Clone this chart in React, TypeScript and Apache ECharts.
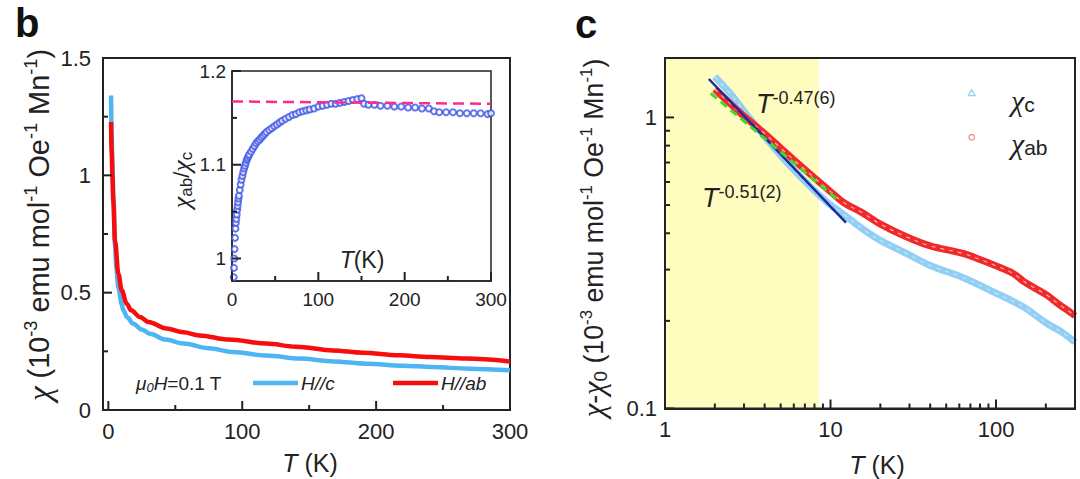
import React, { useEffect, useRef } from 'react';
import * as echarts from 'echarts';

// ---------- Panel b: chi vs T ----------
const tempBc = [2, 2.5, 3, 3.7, 5, 6, 7.5, 10, 11.2, 14, 18.6, 25, 31, 43, 56, 75, 93, 118, 143, 168, 193, 220, 242, 270, 300];
const chiBc = [1.34, 1.18, 1.06, 0.92, 0.7, 0.6, 0.52, 0.45, 0.425, 0.395, 0.368, 0.343, 0.325, 0.3, 0.283, 0.263, 0.247, 0.232, 0.219, 0.207, 0.197, 0.189, 0.183, 0.176, 0.169];
const tempBab = [2, 2.5, 3, 3.7, 5, 7.5, 10, 13.7, 17, 23.6, 30, 43.5, 56, 68, 90, 118, 140, 168, 190, 217, 240, 267, 300];
const chiBab = [1.227, 1.1, 1.0, 0.89, 0.72, 0.58, 0.51, 0.453, 0.425, 0.396, 0.375, 0.347, 0.331, 0.318, 0.3, 0.283, 0.27, 0.254, 0.244, 0.233, 0.226, 0.219, 0.207];

// ---------- Inset: chi_ab / chi_c ----------
const tempRatio = [2, 2.3, 2.6, 3, 3.5, 4, 4.5, 5, 5.5, 6, 6.5, 7, 7.5, 8, 9, 10, 11, 12, 13, 14, 15, 16, 17, 18, 19, 20, 22, 24, 26, 28, 30, 32, 34, 36, 38, 40, 43, 46, 49, 52, 55, 58, 62, 66, 70, 74, 78, 82, 86, 90, 95, 100, 105, 110, 115, 120, 125, 130, 135, 140, 145, 150, 153, 158, 165, 172, 180, 188, 196, 204, 212, 220, 228, 234, 240, 248, 256, 264, 272, 280, 288, 296, 300];
const ratioVal = [0.98, 0.99, 1.0, 1.01, 1.022, 1.032, 1.038, 1.042, 1.047, 1.052, 1.056, 1.06, 1.064, 1.067, 1.073, 1.079, 1.084, 1.088, 1.092, 1.096, 1.099, 1.102, 1.105, 1.107, 1.109, 1.111, 1.114, 1.117, 1.12, 1.123, 1.125, 1.127, 1.129, 1.131, 1.133, 1.135, 1.137, 1.139, 1.141, 1.143, 1.145, 1.147, 1.149, 1.151, 1.153, 1.154, 1.156, 1.157, 1.158, 1.159, 1.16, 1.162, 1.163, 1.164, 1.165, 1.165, 1.166, 1.167, 1.168, 1.169, 1.17, 1.171, 1.165, 1.164, 1.164, 1.163, 1.163, 1.162, 1.162, 1.161, 1.161, 1.16, 1.16, 1.157, 1.156, 1.156, 1.156, 1.155, 1.155, 1.155, 1.155, 1.154, 1.155];
const ratioRefT = [0, 300];
const ratioRefV = [1.1675, 1.165];

// ---------- Panel c: chi - chi0 vs T (log-log) ----------
const tempCc = [2, 2.5, 3, 4, 5, 6, 8, 10, 12.5, 16, 20, 28.7, 40, 63, 100, 145, 200, 250, 300];
const chiCc = [1.38, 1.2, 1.05, 0.86, 0.74, 0.66, 0.56, 0.5, 0.456, 0.41, 0.378, 0.341, 0.31, 0.282, 0.249, 0.224, 0.197, 0.183, 0.169];
const tempCab = [2, 2.5, 3, 4, 5, 6, 8, 10, 12, 15.7, 20, 28.7, 40, 63, 80, 100, 127, 146, 170, 202, 240, 286, 300];
const chiCab = [1.25, 1.11, 1.01, 0.88, 0.785, 0.715, 0.62, 0.556, 0.51, 0.469, 0.43, 0.389, 0.362, 0.341, 0.325, 0.309, 0.291, 0.274, 0.26, 0.2455, 0.228, 0.2125, 0.208];
const fitBlueT = [1.84, 12.4];
const fitBlueChi = [1.355, 0.435];
const fitGreenT = [1.89, 11.4];
const fitGreenChi = [1.21, 0.514];
const yellowRange = [1, 8.5];

// ---------- ticks ----------
const labelsBx = [0, 100, 200, 300];
const labelsBy = [0, 0.5, 1, 1.5];
const minorBx = [50, 150, 250];
const minorBy = [0.25, 0.75, 1.25];
const labelsInX = [0, 100, 200, 300];
const labelsInY = [1, 1.1, 1.2];
const minorInX = [50, 150, 250];
const minorInY = [1.05, 1.15];
const labelsCx = [1, 10, 100];
const labelsCy = [0.1, 1];
const minorCx = [2, 3, 4, 5, 6, 7, 8, 9, 20, 30, 40, 50, 60, 70, 80, 90, 200];
const minorCy = [0.2, 0.3, 0.4, 0.5, 0.6, 0.7, 0.8, 0.9];

const SANS = "'Liberation Sans', Arial, Helvetica, sans-serif";
const SERIF = "'Liberation Serif', 'Times New Roman', serif";
const INK = '#222';
const BLUE = '#4db6f2';
const RED = '#f70d0d';

const zip = (a: number[], b: number[]) => a.map((v, i) => [v, b[i]]);

const only = (allowed: number[]) => (v: number) => {
  const t = allowed.find((a) => Math.abs(v - a) <= 1e-6 * Math.max(1, Math.abs(a)));
  return t === undefined ? '' : String(t);
};

const axisBase = (fontSize: number, lineW: number, margin: number, allowed: number[]) => ({
  axisLine: { show: true, onZero: false, lineStyle: { color: INK, width: lineW } },
  axisTick: { show: false },
  axisLabel: { color: INK, fontSize, fontFamily: SANS, margin, formatter: only(allowed), showMinLabel: true, showMaxLabel: true },
  splitLine: { show: false },
  minorTick: { show: false },
});

// tick specification per grid: values are placed through the chart's own scales (convertToPixel)
const tickSpecs = [
  { grid: 0, majX: labelsBx, minX: minorBx, majY: labelsBy, minY: minorBy, xMin: -4, yMin: 0 },
  { grid: 1, majX: labelsInX, minX: minorInX, majY: labelsInY, minY: minorInY, xMin: 0, yMin: 0.976 },
  { grid: 2, majX: labelsCx, minX: minorCx, majY: labelsCy, minY: minorCy, xMin: 1, yMin: 0.1 },
];

const tx = (extra: any) => ({ fill: INK, fontFamily: SANS, ...extra });

function buildGraphic(): any[] {
  const yTitleRich = (k: number) => ({
    chi: tx({ fontSize: 31 * k, fontFamily: SERIF, fontStyle: 'italic', lineHeight: 32 * k }),
    n: tx({ fontSize: 27 * k, lineHeight: 32 * k }),
    sup: tx({ fontSize: 17 * k, lineHeight: 17 * k, verticalAlign: 'top' }),
    sub: tx({ fontSize: 19 * k, lineHeight: 12 * k, verticalAlign: 'bottom' }),
  });
  const unitStr = '{n| (10}{sup|-3}{n| emu mol}{sup|-1}{n| Oe}{sup|-1}{n| Mn}{sup|-1}{n|)}';
  const legendRich = {
    chi: tx({ fontSize: 30, fontFamily: SERIF, fontStyle: 'italic', lineHeight: 30 }),
    sub: tx({ fontSize: 21, lineHeight: 12, verticalAlign: 'bottom' }),
  };
  const annRich = { t: tx({ fontSize: 27, fontStyle: 'italic', lineHeight: 30 }), s: tx({ fontSize: 18, lineHeight: 17, verticalAlign: 'top' }) };

  return [
    { type: 'text', x: 15, y: 23, style: { text: 'b', fill: '#111', font: `bold 40px ${SANS}`, verticalAlign: 'middle' } },
    { type: 'text', x: 575, y: 24, style: { text: 'c', fill: '#111', font: `bold 40px ${SANS}`, verticalAlign: 'middle' } },
    {
      type: 'text', x: 39, y: 225, rotation: Math.PI / 2,
      style: { text: '{chi|χ}' + unitStr, rich: yTitleRich(1.07), align: 'center', verticalAlign: 'middle' },
    },
    {
      type: 'text', x: 594, y: 238, rotation: Math.PI / 2,
      style: { text: '{chi|χ}{n|-}{chi|χ}{sub|0}' + unitStr, rich: yTitleRich(0.99), align: 'center', verticalAlign: 'middle' },
    },
    {
      type: 'text', x: 310, y: 463,
      style: { text: '{i|T}{n| (K)}', rich: { i: tx({ fontSize: 25, fontStyle: 'italic' }), n: tx({ fontSize: 25 }) }, align: 'center', verticalAlign: 'middle' },
    },
    {
      type: 'text', x: 877, y: 465,
      style: { text: '{i|T}{n| (K)}', rich: { i: tx({ fontSize: 25, fontStyle: 'italic' }), n: tx({ fontSize: 25 }) }, align: 'center', verticalAlign: 'middle' },
    },
    {
      type: 'text', x: 181, y: 180, rotation: Math.PI / 2, z: 10,
      style: {
        text: '{chi|χ}{sub|ab}{n|/}{chi|χ}{sub|c}',
        rich: {
          chi: tx({ fontSize: 26, fontFamily: SERIF, fontStyle: 'italic', lineHeight: 28 }),
          n: tx({ fontSize: 22, lineHeight: 28 }),
          sub: tx({ fontSize: 17, lineHeight: 10, verticalAlign: 'bottom' }),
        },
        align: 'center', verticalAlign: 'middle',
      },
    },
    {
      type: 'text', x: 362, y: 260, z: 10,
      style: { text: '{i|T}{n|(K)}', rich: { i: tx({ fontSize: 23, fontStyle: 'italic' }), n: tx({ fontSize: 23 }) }, align: 'center', verticalAlign: 'middle' },
    },
    {
      type: 'text', x: 136, y: 383, z: 10,
      style: {
        text: '{i|μ}{sub|0}{i|H}{n|=0.1 T}',
        rich: {
          i: tx({ fontSize: 19, fontStyle: 'italic', lineHeight: 22 }),
          n: tx({ fontSize: 19, lineHeight: 22 }),
          sub: tx({ fontSize: 13, lineHeight: 9, verticalAlign: 'bottom', fontStyle: 'italic' }),
        },
        verticalAlign: 'middle',
      },
    },
    { type: 'line', z: 10, shape: { x1: 253, y1: 383, x2: 298, y2: 383 }, style: { stroke: BLUE, lineWidth: 4.5 } },
    { type: 'text', x: 301, y: 383, z: 10, style: { text: 'H//c', fill: INK, font: `italic 19px ${SANS}`, verticalAlign: 'middle' } },
    { type: 'line', z: 10, shape: { x1: 393, y1: 383, x2: 438, y2: 383 }, style: { stroke: RED, lineWidth: 4.5 } },
    { type: 'text', x: 441, y: 383, z: 10, style: { text: 'H//ab', fill: INK, font: `italic 19px ${SANS}`, verticalAlign: 'middle' } },
    { type: 'polygon', z: 10, shape: { points: [[971.7, 89.6], [968.2, 95.6], [975.2, 95.6]] }, style: { fill: 'none', stroke: '#8fd0f6', lineWidth: 1.2 } },
    { type: 'circle', z: 10, shape: { cx: 971.7, cy: 137.3, r: 2.8 }, style: { fill: 'none', stroke: '#f08c8c', lineWidth: 1.2 } },
    { type: 'text', x: 1011, y: 100, z: 10, style: { text: '{chi|χ}{sub|c}', rich: legendRich, verticalAlign: 'middle' } },
    { type: 'text', x: 1011, y: 143, z: 10, style: { text: '{chi|χ}{sub|ab}', rich: legendRich, verticalAlign: 'middle' } },
    { type: 'text', x: 756, y: 104, z: 10, style: { text: '{t|T}{s|-0.47(6)}', rich: annRich, verticalAlign: 'middle' } },
    { type: 'text', x: 702, y: 198, z: 10, style: { text: '{t|T}{s|-0.51(2)}', rich: annRich, verticalAlign: 'middle' } },
  ];
}

function buildOption(graphic: any[]): any {
  return {
    animation: false,
    grid: [
      { left: 103, top: 58, width: 407, height: 352, show: true, borderColor: INK, borderWidth: 2 },
      { left: 232, top: 71, width: 259, height: 210, show: true, borderColor: INK, borderWidth: 1.5, backgroundColor: '#fff' },
      { left: 665, top: 58, width: 410, height: 350.5, show: true, borderColor: INK, borderWidth: 2, z: 3 },
    ],
    xAxis: [
      { type: 'value', gridIndex: 0, min: -4, max: 300, splitNumber: 3, minInterval: 100, maxInterval: 100, ...axisBase(22, 2, 10, labelsBx) },
      { type: 'value', gridIndex: 1, min: 0, max: 300, interval: 100, ...axisBase(19, 1.5, 9, labelsInX) },
      { type: 'log', logBase: 10, gridIndex: 2, min: 1, max: 300, z: 3, ...axisBase(22, 2, 10, labelsCx) },
    ],
    yAxis: [
      { type: 'value', gridIndex: 0, min: 0, max: 1.5, interval: 0.5, ...axisBase(22, 2, 12, labelsBy) },
      { type: 'value', gridIndex: 1, min: 0.976, max: 1.2, splitNumber: 2, minInterval: 0.1, maxInterval: 0.1, ...axisBase(19, 1.5, 6, labelsInY) },
      { type: 'log', logBase: 10, gridIndex: 2, min: 0.1, max: 1.6, z: 3, ...axisBase(22, 2, 8, labelsCy) },
    ],
    graphic,
    series: [
      // panel b
      {
        name: 'H//c', type: 'line', xAxisIndex: 0, yAxisIndex: 0, data: zip(tempBc, chiBc),
        showSymbol: false, smooth: 0.35, smoothMonotone: 'x', lineStyle: { color: BLUE, width: 4.5 }, z: 2,
      },
      {
        name: 'H//ab', type: 'line', xAxisIndex: 0, yAxisIndex: 0, data: zip(tempBab, chiBab),
        showSymbol: false, smooth: 0.35, smoothMonotone: 'x', lineStyle: { color: RED, width: 4.5 }, z: 3,
      },
      // inset
      {
        name: 'ratio', type: 'scatter', xAxisIndex: 1, yAxisIndex: 1, data: zip(tempRatio, ratioVal),
        symbol: 'emptyCircle', symbolSize: 6, itemStyle: { color: '#3f55e6', borderWidth: 1.1, opacity: 0.8 }, z: 5,
      },
      {
        name: 'ratioRef', type: 'line', xAxisIndex: 1, yAxisIndex: 1, data: zip(ratioRefT, ratioRefV),
        showSymbol: false, lineStyle: { color: '#ff2a8c', width: 2.5, type: [11, 6] }, z: 6,
      },
      // panel c
      {
        name: 'yellow', type: 'custom', xAxisIndex: 2, yAxisIndex: 2, z: 1, silent: true,
        dimensions: ['x0', 'x1', 'y0', 'y1'], encode: { x: [0, 1], y: [2, 3] },
        data: [[yellowRange[0], yellowRange[1], 0.1, 1.6]],
        renderItem: (_p: any, api: any) => {
          const a = api.coord([api.value(0), api.value(2)]);
          const b = api.coord([api.value(1), api.value(3)]);
          return { type: 'rect', shape: { x: a[0], y: b[1], width: b[0] - a[0], height: a[1] - b[1] }, style: { fill: '#fffcc0' } };
        },
      },
      {
        name: 'χc', type: 'line', xAxisIndex: 2, yAxisIndex: 2, data: zip(tempCc, chiCc),
        showSymbol: false, smooth: 0.35, lineStyle: { color: '#92cff5', width: 7 }, z: 2,
      },
      {
        name: 'χc tex', type: 'line', xAxisIndex: 2, yAxisIndex: 2, data: zip(tempCc, chiCc),
        showSymbol: false, smooth: 0.35, lineStyle: { color: '#c4e5fa', width: 1.2, type: [4, 5] }, z: 2,
      },
      {
        name: 'χab', type: 'line', xAxisIndex: 2, yAxisIndex: 2, data: zip(tempCab, chiCab),
        showSymbol: false, smooth: 0.35, lineStyle: { color: '#f02a2a', width: 7 }, z: 2,
      },
      {
        name: 'χab tex', type: 'line', xAxisIndex: 2, yAxisIndex: 2, data: zip(tempCab, chiCab),
        showSymbol: false, smooth: 0.35, lineStyle: { color: '#ffb0b0', width: 1.2, type: [4, 5] }, z: 2,
      },
      {
        name: 'fit1', type: 'line', xAxisIndex: 2, yAxisIndex: 2, data: zip(fitBlueT, fitBlueChi),
        showSymbol: false, lineStyle: { color: '#1c2aa0', width: 2.5 }, z: 3,
      },
      {
        name: 'fit2', type: 'line', xAxisIndex: 2, yAxisIndex: 2, data: zip(fitGreenT, fitGreenChi),
        showSymbol: false, lineStyle: { color: '#3fd92a', width: 3, type: [8, 5] }, z: 3,
      },
    ],
  };
}

function buildTickGraphics(chart: any): any[] {
  const out: any[] = [];
  for (const s of tickSpecs) {
    const add = (x: number, y: number, dir: 0 | 1, len: number) => {
      const p = chart.convertToPixel({ gridIndex: s.grid }, [x, y]) as number[];
      if (!p || !isFinite(p[0]) || !isFinite(p[1])) return;
      out.push({
        type: 'line', z: 100, silent: true,
        shape: dir === 0 ? { x1: p[0], y1: p[1], x2: p[0], y2: p[1] - len } : { x1: p[0], y1: p[1], x2: p[0] + len, y2: p[1] },
        style: { stroke: '#222', lineWidth: 2 },
      });
    };
    s.majX.forEach((v) => add(v, s.yMin, 0, 9));
    s.minX.forEach((v) => add(v, s.yMin, 0, 5));
    s.majY.forEach((v) => add(s.xMin, v, 1, 9));
    s.minY.forEach((v) => add(s.xMin, v, 1, 5));
  }
  return out;
}

export default function App() {
  const ref = useRef<HTMLDivElement>(null);
  useEffect(() => {
    if (!ref.current) return;
    const chart = echarts.init(ref.current, undefined, { renderer: 'svg' });
    const base = buildGraphic();
    chart.setOption(buildOption(base));
    try {
      const ticks = buildTickGraphics(chart);
      chart.setOption({ graphic: [...base, ...ticks] });
    } catch (e) {
      // keep the chart without extra ticks if conversion fails
    }
    return () => chart.dispose();
  }, []);
  return (
    <div
      ref={ref}
      style={{ position: 'absolute', left: 0, top: 0, width: 1080, height: 479, background: '#fff' }}
    />
  );
}
